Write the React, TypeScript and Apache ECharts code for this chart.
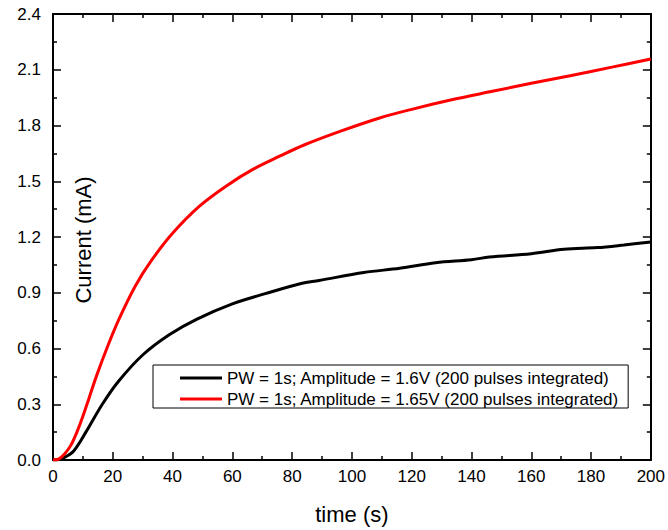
import React, { useEffect, useRef } from "react";
import * as echarts from "echarts";

const timeBlack = [0, 2, 4, 7, 11, 16.5, 22, 30, 39, 48, 60, 71, 83, 89, 104, 116, 128, 140, 146, 160, 171, 182, 191, 200];
const currentBlack = [0, 0.003, 0.015, 0.05, 0.15, 0.3, 0.425, 0.565, 0.675, 0.757, 0.84, 0.895, 0.95, 0.966, 1.009, 1.032, 1.062, 1.078, 1.092, 1.11, 1.134, 1.143, 1.157, 1.173];

const timeRed = [0, 2, 4, 6, 8, 10, 12, 14.5, 18, 22, 27.5, 33, 40, 49, 58, 67, 76, 84, 96, 109, 120, 133, 147, 160, 173, 187, 200];
const currentRed = [0, 0.006, 0.035, 0.08, 0.15, 0.235, 0.33, 0.45, 0.6, 0.755, 0.935, 1.075, 1.22, 1.366, 1.475, 1.565, 1.636, 1.695, 1.768, 1.839, 1.887, 1.937, 1.984, 2.027, 2.068, 2.114, 2.158];

const seriesNames = [
  "PW = 1s; Amplitude = 1.6V (200 pulses integrated)",
  "PW = 1s; Amplitude = 1.65V (200 pulses integrated)",
];
const seriesColors = ["#000000", "#ff0000"];

const xTitle = "time (s)";
const yTitle = "Current (mA)";

const FONT = "Arial, 'Liberation Sans', sans-serif";

export default function App() {
  const ref = useRef<HTMLDivElement>(null);
  useEffect(() => {
    document.body.style.margin = "0";
    const chart = echarts.init(ref.current!, null, { renderer: "svg" });
    const axisLine = { show: true, onZero: false, lineStyle: { color: "#000", width: 2 } };
    const axisTick = { show: true, inside: true, length: 8, lineStyle: { color: "#000", width: 1.5 } };
    const minorTick = { show: true, splitNumber: 2, length: 4, lineStyle: { color: "#000", width: 1.5 } };
    const xBase = { type: "value", min: 0, max: 200, interval: 20, axisLine, axisTick, minorTick, splitLine: { show: false } };
    const yBase = { type: "value", min: 0, max: 2.4, interval: 0.3, axisLine, axisTick, minorTick, splitLine: { show: false } };
    chart.setOption({
      animation: false,
      backgroundColor: "#fff",
      grid: { left: 53, right: 15, top: 14, bottom: 68, containLabel: false },
      xAxis: [
        {
          ...xBase,
          position: "bottom",
          name: xTitle,
          nameLocation: "middle",
          nameGap: 43,
          nameTextStyle: { fontSize: 22, color: "#000", fontFamily: FONT },
          axisLabel: { fontSize: 17, color: "#000", fontFamily: FONT, margin: 8 },
        },
        { ...xBase, position: "top", axisLabel: { show: false } },
      ],
      yAxis: [
        {
          ...yBase,
          position: "left",
          axisLabel: { fontSize: 17, color: "#000", fontFamily: FONT, margin: 12, formatter: (v: number) => v.toFixed(1) },
        },
        { ...yBase, position: "right", axisLabel: { show: false } },
      ],
      legend: {
        left: 153,
        top: 365,
        orient: "vertical",
        padding: [4, 9, 0, 27],
        itemGap: 3,
        itemWidth: 42,
        itemHeight: 3,
        icon: "rect",
        borderColor: "#000",
        borderWidth: 1,
        backgroundColor: "#fff",
        textStyle: { fontSize: 17, color: "#000", fontFamily: FONT, lineHeight: 18 },
        data: seriesNames,
      },
      graphic: [
        {
          type: "text",
          x: 83,
          y: 240,
          rotation: Math.PI / 2,
          style: { text: yTitle, fontSize: 22, fill: "#000", fontFamily: FONT, align: "center", verticalAlign: "middle" },
        },
      ],
      series: [
        {
          name: seriesNames[0],
          type: "line",
          data: timeBlack.map((t, i) => [t, currentBlack[i]]),
          showSymbol: false,
          symbol: "none",
          smooth: 0.35,
          lineStyle: { color: seriesColors[0], width: 3 },
          itemStyle: { color: seriesColors[0] },
          z: 3,
        },
        {
          name: seriesNames[1],
          type: "line",
          data: timeRed.map((t, i) => [t, currentRed[i]]),
          showSymbol: false,
          symbol: "none",
          smooth: 0.35,
          lineStyle: { color: seriesColors[1], width: 3 },
          itemStyle: { color: seriesColors[1] },
          z: 3,
        },
      ],
    });
    return () => chart.dispose();
  }, []);
  return <div ref={ref} style={{ position: "fixed", left: 0, top: 0, width: 668, height: 530 }} />;
}
